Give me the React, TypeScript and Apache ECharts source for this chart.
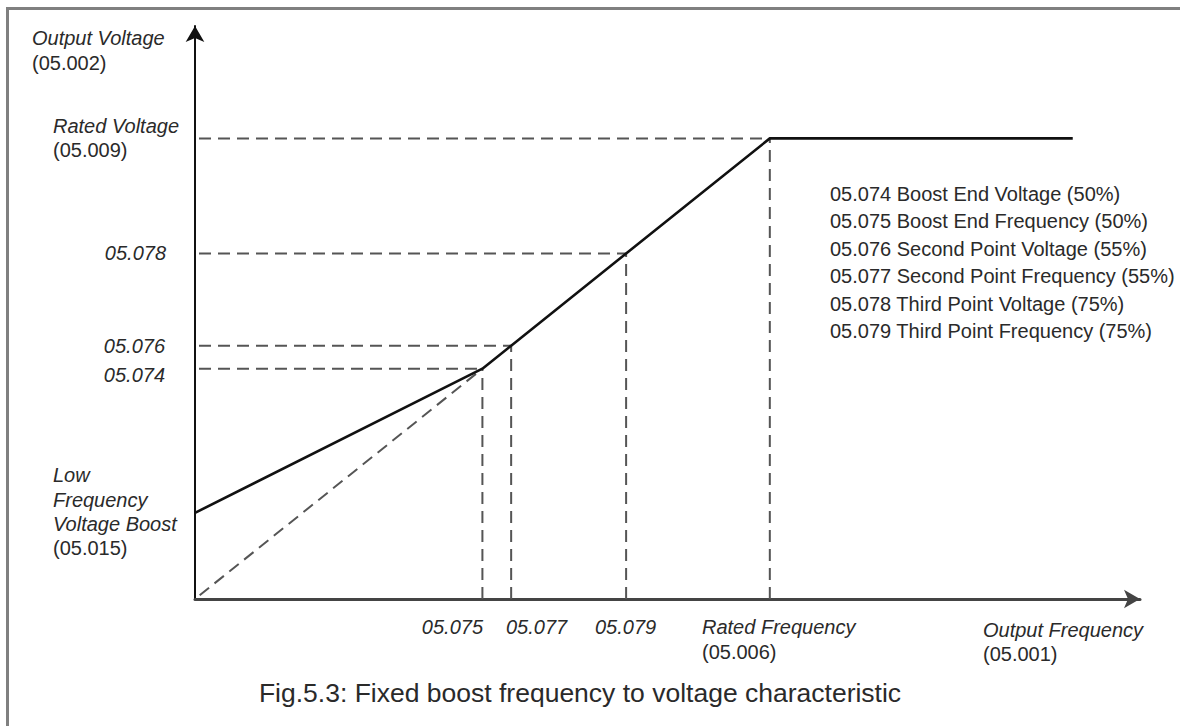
import React, { useEffect, useRef } from "react";
import * as echarts from "echarts";

// Curve points in % of rated frequency / % of rated voltage
const curveFreq = [0, 50, 55, 75, 100, 152.7];
const curveVolt = [18.7, 50, 55, 75, 100, 100];
// Guide points (boost end, second point, third point, rated)
const guideFreq = [50, 55, 75, 100];
const guideVolt = [50, 55, 75, 100];
// Fixed (linear) reference line
const linearFreq = [0, 50];
const linearVolt = [0, 50];

const legendLines = [
  "05.074 Boost End Voltage (50%)",
  "05.075 Boost End Frequency (50%)",
  "05.076 Second Point Voltage (55%)",
  "05.077 Second Point Frequency (55%)",
  "05.078 Third Point Voltage (75%)",
  "05.079 Third Point Frequency (75%)",
];
const titleText = "Fig.5.3: Fixed boost frequency to voltage characteristic";

const FONT = "'Liberation Sans', Arial, Helvetica, sans-serif";
const TXT = "#2a2a2a";

function txt(text: string, x: number, y: number, opts: any = {}) {
  return {
    type: "text",
    x,
    y,
    silent: true,
    style: {
      text,
      fill: TXT,
      font: `${opts.italic ? "italic " : ""}${opts.size || 20}px ${FONT}`,
      textAlign: opts.align || "left",
      textVerticalAlign: "middle",
    },
  };
}

export default function App() {
  const ref = useRef<HTMLDivElement>(null);
  useEffect(() => {
    if (!ref.current) return;
    const chart = echarts.init(ref.current, undefined, { renderer: "svg" });
    const dash = { color: "#555", width: 2, type: [12, 7] as any };
    const series: any[] = [];
    guideFreq.forEach((f, i) => {
      series.push({
        type: "line",
        data: [
          [0, guideVolt[i]],
          [f, guideVolt[i]],
        ],
        symbol: "none",
        silent: true,
        lineStyle: { ...dash, dashOffset: -4 },
      });
      series.push({
        type: "line",
        data: [
          [f, 0],
          [f, guideVolt[i]],
        ],
        symbol: "none",
        silent: true,
        lineStyle: dash,
      });
    });
    series.push({
      type: "line",
      data: linearFreq.map((f, i) => [f, linearVolt[i]]),
      symbol: "none",
      silent: true,
      lineStyle: { ...dash, dashOffset: -6 },
    });
    series.push({
      type: "line",
      data: curveFreq.map((f, i) => [f, curveVolt[i]]),
      symbol: "none",
      silent: true,
      z: 5,
      lineStyle: { color: "#111", width: 2.6 },
    });

    const graphics: any[] = [
      { type: "rect", shape: { x: 6, y: 7, width: 1174, height: 3 }, style: { fill: "#808080" }, silent: true },
      { type: "rect", shape: { x: 6, y: 7, width: 3, height: 719 }, style: { fill: "#808080" }, silent: true },
      txt("Output Voltage", 32, 38, { italic: true }),
      txt("(05.002)", 32, 63),
      txt("Rated Voltage", 53, 126, { italic: true }),
      txt("(05.009)", 53, 150),
      txt("05.078", 166, 253, { italic: true, align: "right" }),
      txt("05.076", 165, 346, { italic: true, align: "right" }),
      txt("05.074", 165, 375, { italic: true, align: "right" }),
      txt("Low", 53, 475, { italic: true }),
      txt("Frequency", 53, 500, { italic: true }),
      txt("Voltage Boost", 53, 524, { italic: true }),
      txt("(05.015)", 53, 548),
      txt("05.075", 483, 627, { italic: true, align: "right" }),
      txt("05.077", 506, 627, { italic: true }),
      txt("05.079", 595, 627, { italic: true }),
      txt("Rated Frequency", 702, 627, { italic: true }),
      txt("(05.006)", 702, 652),
      txt("Output Frequency", 983, 630, { italic: true }),
      txt("(05.001)", 983, 654),
      ...legendLines.map((l, i) => txt(l, 830, 194 + i * 27.4, { size: 20 })),
      txt(titleText, 580, 693, { size: 26.5, align: "center" }),
    ];

    chart.setOption({
      animation: false,
      grid: { left: 195, right: 40, top: 26, bottom: 127, containLabel: false },
      xAxis: {
        type: "value",
        min: 0,
        max: 164.4,
        axisLine: {
          show: true,
          symbol: ["none", "arrow"],
          symbolSize: [14, 16],
          lineStyle: { color: "#444", width: 3 },
        },
        axisTick: { show: false },
        axisLabel: { show: false },
        splitLine: { show: false },
      },
      yAxis: {
        type: "value",
        min: 0,
        max: 124.4,
        axisLine: {
          show: true,
          symbol: ["none", "arrow"],
          symbolSize: [14, 16],
          lineStyle: { color: "#111", width: 2 },
        },
        axisTick: { show: false },
        axisLabel: { show: false },
        splitLine: { show: false },
      },
      series,
      graphic: graphics,
    });
    return () => chart.dispose();
  }, []);
  return (
    <div
      ref={ref}
      style={{ position: "fixed", left: 0, top: 0, width: 1180, height: 726, background: "#fff" }}
    />
  );
}
